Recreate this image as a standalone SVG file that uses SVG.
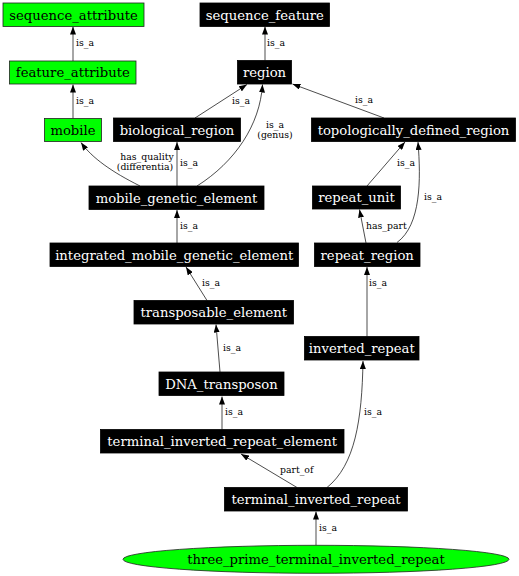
<svg xmlns="http://www.w3.org/2000/svg" width="519" height="576" viewBox="0 0 519 576">
<style>
.nb{fill:#000;stroke:#000;stroke-width:0.8}
.ng{fill:#00ff00;stroke:#222;stroke-width:0.8}
.tw{font-family:"DejaVu Serif",serif;font-size:13.2px;fill:#fff;text-anchor:middle}
.tk{font-family:"DejaVu Serif",serif;font-size:13.2px;fill:#000;text-anchor:middle}
.e{fill:none;stroke:#000;stroke-width:0.7;marker-end:url(#ah)}
.l{font-family:"DejaVu Serif",serif;font-size:9.3px;fill:#000}
.lc{font-family:"DejaVu Serif",serif;font-size:9.3px;fill:#000;text-anchor:middle}
</style>
<defs>
<marker id="ah" markerUnits="userSpaceOnUse" markerWidth="8" markerHeight="6" refX="8" refY="3" orient="auto">
<path d="M0,0 L8,3 L0,6 z" fill="#000"/>
</marker>
</defs>
<rect width="519" height="576" fill="#fff"/>
<g id="edges">
<path class="e" d="M73,61 L73,26.5"/>
<path class="e" d="M73,118.5 L73,84.5"/>
<path class="e" d="M265,60.5 L265,26.5"/>
<path class="e" d="M195,118 L247,84.5"/>
<path class="e" d="M384,118 L292.5,84"/>
<path class="e" d="M197,186 C235,162 260,125 262.5,84.5"/>
<path class="e" d="M140,186 C112,172 92,158 81,142.5"/>
<path class="e" d="M177,186 L177,142"/>
<path class="e" d="M177,243 L177,210"/>
<path class="e" d="M207,300.5 L186,267"/>
<path class="e" d="M220,372 L216,324.5"/>
<path class="e" d="M222,429.5 L222,396.5"/>
<path class="e" d="M297,487.5 L241,454"/>
<path class="e" d="M327,487.5 C355,465 362,420 363,361"/>
<path class="e" d="M316,545.3 L316,511.5"/>
<path class="e" d="M367,186 L405,142"/>
<path class="e" d="M397,242.5 C421,225 421,180 418,142"/>
<path class="e" d="M366,243 L359.5,209.5"/>
<path class="e" d="M367,336.5 L367,267"/>
<text class="l" x="76" y="46">is_a</text>
<text class="l" x="76" y="104">is_a</text>
<text class="l" x="267" y="46">is_a</text>
<text class="l" x="232" y="104">is_a</text>
<text class="l" x="355" y="103">is_a</text>
<text class="lc" x="275" y="128">is_a</text>
<text class="lc" x="275" y="138">(genus)</text>
<text class="lc" x="147" y="160">has_quality</text>
<text class="lc" x="145" y="169.5">(differentia)</text>
<text class="l" x="180" y="166">is_a</text>
<text class="l" x="180" y="229">is_a</text>
<text class="l" x="202" y="286">is_a</text>
<text class="l" x="223" y="351">is_a</text>
<text class="l" x="225" y="415">is_a</text>
<text class="l" x="280" y="473">part_of</text>
<text class="l" x="364" y="415">is_a</text>
<text class="l" x="319" y="531">is_a</text>
<text class="l" x="397" y="166">is_a</text>
<text class="l" x="424" y="200">is_a</text>
<text class="l" x="366" y="229">has_part</text>
<text class="l" x="369" y="286">is_a</text>
</g>
<g id="sequence_attribute"><rect class="ng" x="3" y="3" width="141" height="23.5"/><text class="tk" x="73.5" y="19.5">sequence_attribute</text></g>
<g id="feature_attribute"><rect class="ng" x="9.5" y="61" width="126.5" height="23"/><text class="tk" x="72.8" y="77">feature_attribute</text></g>
<g id="mobile"><rect class="ng" x="44.5" y="118.5" width="57" height="23"/><text class="tk" x="73" y="134.5">mobile</text></g>
<g id="sequence_feature"><rect class="nb" x="200" y="3" width="129.5" height="23.5"/><text class="tw" x="264.8" y="19.5">sequence_feature</text></g>
<g id="region"><rect class="nb" x="237.5" y="60.5" width="54" height="23.5"/><text class="tw" x="264.5" y="77">region</text></g>
<g id="biological_region"><rect class="nb" x="113.5" y="118" width="127" height="23.5"/><text class="tw" x="177" y="134.5">biological_region</text></g>
<g id="topologically_defined_region"><rect class="nb" x="311.5" y="118" width="204" height="23.5"/><text class="tw" x="413.5" y="134.5">topologically_defined_region</text></g>
<g id="mobile_genetic_element"><rect class="nb" x="89" y="186" width="175" height="23.5"/><text class="tw" x="176.5" y="202.5">mobile_genetic_element</text></g>
<g id="repeat_unit"><rect class="nb" x="312.5" y="186" width="88" height="23"/><text class="tw" x="356.5" y="202">repeat_unit</text></g>
<g id="integrated_mobile_genetic_element"><rect class="nb" x="50" y="243" width="248.5" height="23.5"/><text class="tw" x="174.3" y="259.5">integrated_mobile_genetic_element</text></g>
<g id="repeat_region"><rect class="nb" x="314.5" y="243" width="105.5" height="23.5"/><text class="tw" x="367.2" y="259.5">repeat_region</text></g>
<g id="transposable_element"><rect class="nb" x="134" y="300.5" width="159.5" height="23.5"/><text class="tw" x="213.8" y="317">transposable_element</text></g>
<g id="inverted_repeat"><rect class="nb" x="304.5" y="336.5" width="114.5" height="23.5"/><text class="tw" x="361.8" y="353">inverted_repeat</text></g>
<g id="DNA_transposon"><rect class="nb" x="159" y="372" width="125" height="23.5"/><text class="tw" x="221.5" y="388.5">DNA_transposon</text></g>
<g id="terminal_inverted_repeat_element"><rect class="nb" x="100.5" y="429.5" width="243.5" height="23.5"/><text class="tw" x="222.2" y="446">terminal_inverted_repeat_element</text></g>
<g id="terminal_inverted_repeat"><rect class="nb" x="224.5" y="487.5" width="183" height="23.5"/><text class="tw" x="316" y="504">terminal_inverted_repeat</text></g>
<g id="three_prime_terminal_inverted_repeat"><ellipse class="ng" cx="316" cy="559.3" rx="193" ry="14"/><text class="tk" x="316" y="564">three_prime_terminal_inverted_repeat</text></g>
</svg>
